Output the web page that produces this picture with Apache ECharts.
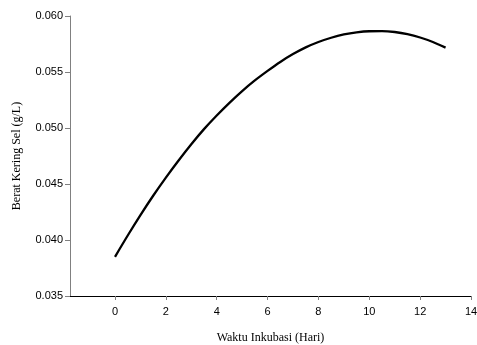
<!DOCTYPE html>
<html><head><meta charset="utf-8">
<script src="https://cdn.jsdelivr.net/npm/echarts@6/dist/echarts.min.js"></script>
<style>html,body{margin:0;padding:0;background:#fff}#c{width:477px;height:345px}</style>
</head><body><div id="c"></div>
<script>
const days = [0, 0.5, 1, 1.5, 2, 2.5, 3, 3.5, 4, 4.5, 5, 5.5, 6, 6.5, 7, 7.5, 8, 8.5, 9, 9.5, 10, 10.5, 11, 11.5, 12, 12.5, 13];
const weights = [0.03850, 0.04040, 0.04222, 0.04395, 0.04557, 0.04710, 0.04855, 0.04990, 0.05112, 0.05225, 0.05330, 0.05425, 0.05510, 0.05590, 0.05660, 0.05720, 0.05768, 0.05806, 0.05835, 0.05854, 0.05864, 0.05865, 0.05857, 0.05838, 0.05808, 0.05768, 0.05718];
const xTicks = [0, 2, 4, 6, 8, 10, 12, 14];
const xTitle = 'Waktu Inkubasi (Hari)';
const yTitle = 'Berat Kering Sel (g/L)';

const chart = echarts.init(document.getElementById('c'), null, {renderer: 'canvas'});
chart.setOption({
  animation: false,
  grid: {left: 70, right: 6, top: 16, bottom: 49, containLabel: false, outerBoundsMode: 'none'},
  xAxis: {
    type: 'value', min: -1.77, max: 14,
    name: xTitle, nameLocation: 'middle', nameGap: 36,
    nameTextStyle: {fontFamily: 'Liberation Serif', fontSize: 12, color: '#000'},
    axisLine: {show: true, onZero: false, lineStyle: {color: '#000', width: 1}},
    axisTick: {show: true, length: 4, customValues: xTicks, lineStyle: {color: '#808080'}},
    axisLabel: {customValues: xTicks, fontFamily: 'Liberation Sans', fontSize: 11, color: '#000', margin: 10},
    splitLine: {show: false}
  },
  yAxis: {
    type: 'value', min: 0.035, max: 0.060, interval: 0.005,
    name: yTitle, nameLocation: 'middle', nameGap: 47, nameRotate: 90,
    nameTextStyle: {fontFamily: 'Liberation Serif', fontSize: 12, color: '#000'},
    axisLine: {show: true, onZero: false, lineStyle: {color: '#808080', width: 1}},
    axisTick: {show: true, length: 5, lineStyle: {color: '#808080'}},
    axisLabel: {fontFamily: 'Liberation Sans', fontSize: 11, color: '#000', margin: 7,
      formatter: v => v.toFixed(3)},
    splitLine: {show: false}
  },
  series: [{
    type: 'line', data: days.map((d, i) => [d, weights[i]]),
    smooth: 0.3, showSymbol: false,
    lineStyle: {color: '#000', width: 2.3}
  }]
});
</script></body></html>
